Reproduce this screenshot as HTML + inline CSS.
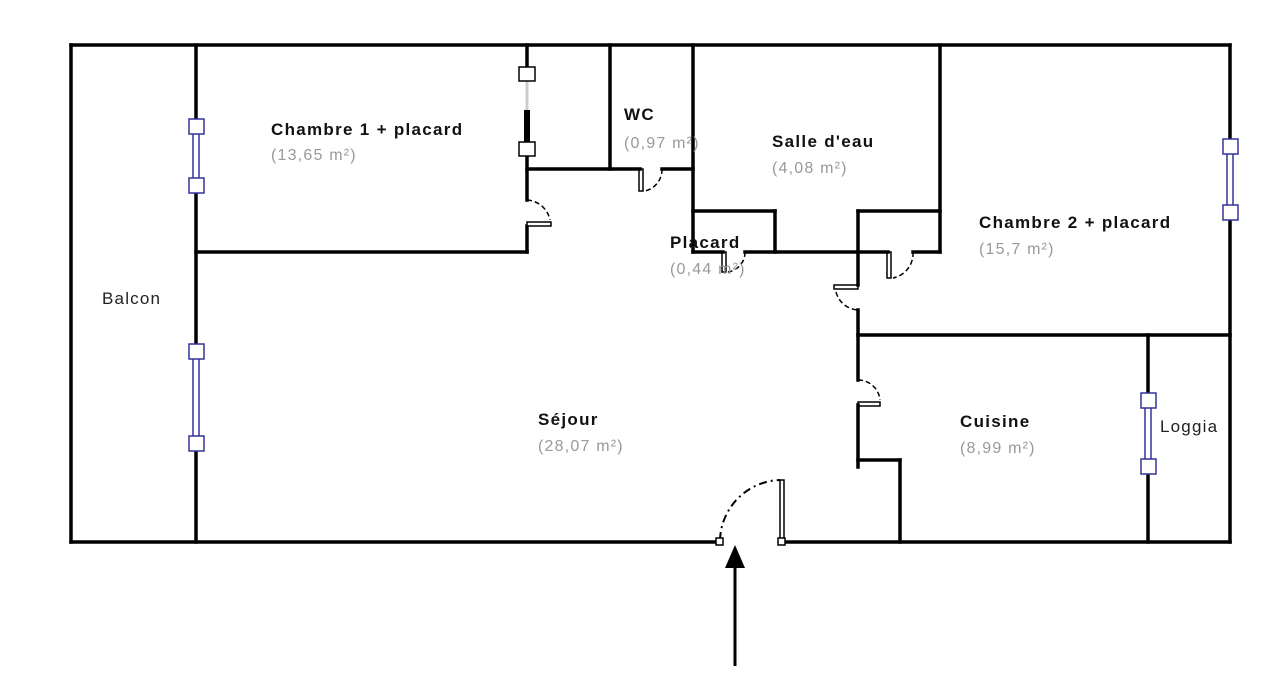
<!DOCTYPE html>
<html><head><meta charset="utf-8"><style>
html,body{margin:0;padding:0;background:#fff;}
svg{display:block}
.l{font-family:"Liberation Sans",sans-serif;font-size:17px;font-weight:bold;fill:#111;letter-spacing:1.3px}
.a{font-family:"Liberation Sans",sans-serif;font-size:16px;fill:#999;letter-spacing:1.2px}
.n{font-family:"Liberation Sans",sans-serif;font-size:17px;fill:#222;letter-spacing:1.2px}
</style></head><body>
<svg width="1262" height="681" viewBox="0 0 1262 681" xmlns="http://www.w3.org/2000/svg">
<g stroke="#000" stroke-width="3.5" fill="none" stroke-linecap="square">
<line x1="71" y1="45" x2="1230" y2="45"/>
<line x1="71" y1="45" x2="71" y2="542"/>
<line x1="71" y1="542" x2="720" y2="542"/>
<line x1="782" y1="542" x2="1230" y2="542"/>
<line x1="1230" y1="45" x2="1230" y2="140"/>
<line x1="1230" y1="220" x2="1230" y2="542"/>
<line x1="196" y1="45" x2="196" y2="120"/>
<line x1="196" y1="192" x2="196" y2="345"/>
<line x1="196" y1="450" x2="196" y2="542"/>
<line x1="196" y1="252" x2="527" y2="252"/>
<line x1="527" y1="45" x2="527" y2="67"/>
<line x1="527" y1="155" x2="527" y2="200"/>
<line x1="527" y1="226" x2="527" y2="252"/>
<line x1="527" y1="169" x2="640" y2="169"/>
<line x1="662" y1="169" x2="693" y2="169"/>
<line x1="610" y1="45" x2="610" y2="169"/>
<line x1="693" y1="45" x2="693" y2="252"/>
<line x1="940" y1="45" x2="940" y2="252"/>
<line x1="693" y1="211" x2="775" y2="211"/>
<line x1="775" y1="211" x2="775" y2="252"/>
<line x1="693" y1="252" x2="723" y2="252"/>
<line x1="745" y1="252" x2="888" y2="252"/>
<line x1="913" y1="252" x2="940" y2="252"/>
<line x1="858" y1="211" x2="940" y2="211"/>
<line x1="858" y1="211" x2="858" y2="285"/>
<line x1="858" y1="310" x2="858" y2="380"/>
<line x1="858" y1="405" x2="858" y2="467"/>
<line x1="858" y1="335" x2="1230" y2="335"/>
<line x1="858" y1="460" x2="900" y2="460"/>
<line x1="900" y1="460" x2="900" y2="542"/>
<line x1="1148" y1="335" x2="1148" y2="396"/>
<line x1="1148" y1="472" x2="1148" y2="542"/>
</g>
<rect x="524" y="110" width="6" height="32" fill="#000"/>
<line x1="527" y1="80" x2="527" y2="110" stroke="#ccc" stroke-width="3"/>
<rect x="519" y="67" width="16" height="14" fill="#fff" stroke="#000" stroke-width="1.5"/>
<rect x="519" y="142" width="16" height="14" fill="#fff" stroke="#000" stroke-width="1.5"/>
<g stroke="#33339a" stroke-width="1.5" fill="#fff">
<line x1="193" y1="126" x2="193" y2="186"/><line x1="199" y1="126" x2="199" y2="186"/>
<rect x="189" y="119" width="15" height="15"/><rect x="189" y="178" width="15" height="15"/>
<line x1="193" y1="351" x2="193" y2="443"/><line x1="199" y1="351" x2="199" y2="443"/>
<rect x="189" y="344" width="15" height="15"/><rect x="189" y="436" width="15" height="15"/>
<line x1="1227" y1="146" x2="1227" y2="213"/><line x1="1233" y1="146" x2="1233" y2="213"/>
<rect x="1223" y="139" width="15" height="15"/><rect x="1223" y="205" width="15" height="15"/>
<line x1="1145" y1="401" x2="1145" y2="467"/><line x1="1151" y1="401" x2="1151" y2="467"/>
<rect x="1141" y="393" width="15" height="15"/><rect x="1141" y="459" width="15" height="15"/>
</g>
<g stroke="#000" stroke-width="1.5" fill="none">
<rect x="527" y="222" width="24" height="4" fill="#fff"/>
<path d="M527 200 A25 25 0 0 1 550 220" stroke-dasharray="5,3"/>
<rect x="639" y="169" width="4" height="22"/>
<path d="M662 169 A22 22 0 0 1 645 191" stroke-dasharray="5,3"/>
<rect x="722" y="252" width="4" height="20"/>
<path d="M745 252 A20 20 0 0 1 728 272" stroke-dasharray="5,3"/>
<rect x="887" y="252" width="4" height="26"/>
<path d="M913 252 A25 25 0 0 1 893 278" stroke-dasharray="5,3"/>
<rect x="834" y="285" width="24" height="4"/>
<path d="M836 292 A24 24 0 0 0 858 310" stroke-dasharray="5,3"/>
<rect x="858" y="402" width="22" height="4"/>
<path d="M858 380 A22 22 0 0 1 880 400" stroke-dasharray="5,3"/>
<rect x="780" y="480" width="4" height="62"/>
<path d="M720 540 A62 62 0 0 1 780 480" stroke-dasharray="8,4,2,4" stroke-width="2"/>
<rect x="716" y="538" width="7" height="7" fill="#fff"/>
<rect x="778" y="538" width="7" height="7" fill="#fff"/>
</g>
<line x1="735" y1="560" x2="735" y2="666" stroke="#000" stroke-width="3"/>
<polygon points="735,545 725,568 745,568" fill="#000"/>
<text class="l" x="271" y="135">Chambre 1 + placard</text>
<text class="a" x="271" y="160">(13,65 m²)</text>
<text class="l" x="624" y="120">WC</text>
<text class="a" x="624" y="148">(0,97 m²)</text>
<text class="l" x="772" y="147">Salle d'eau</text>
<text class="a" x="772" y="173">(4,08 m²)</text>
<text class="l" x="670" y="248">Placard</text>
<text class="a" x="670" y="274">(0,44 m²)</text>
<text class="l" x="979" y="228">Chambre 2 + placard</text>
<text class="a" x="979" y="254">(15,7 m²)</text>
<text class="n" x="102" y="304">Balcon</text>
<text class="l" x="538" y="425">Séjour</text>
<text class="a" x="538" y="451">(28,07 m²)</text>
<text class="l" x="960" y="427">Cuisine</text>
<text class="a" x="960" y="453">(8,99 m²)</text>
<text class="n" x="1160" y="432">Loggia</text>
</svg>
</body></html>
